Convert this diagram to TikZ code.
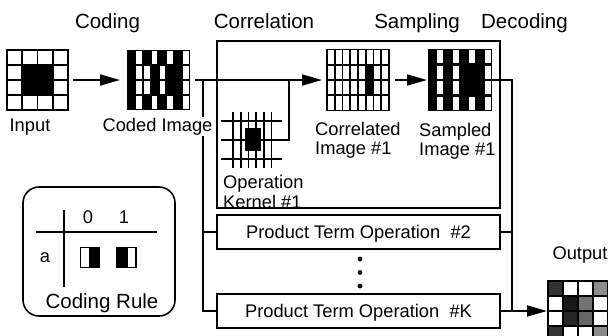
\documentclass[tikz,border=0pt]{standalone}
\usepackage{fontspec}
\setmainfont{Liberation Sans}
\usetikzlibrary{arrows.meta}
\begin{document}
\begin{tikzpicture}[x=1pt,y=-1pt,
  hdr/.style={font=\fontsize{20.5}{24}\selectfont, anchor=base, inner sep=0pt},
  lbl/.style={font=\fontsize{18.3}{22}\selectfont, anchor=base, inner sep=0pt},
  lblw/.style={lbl, anchor=base west},
  cell/.style={inner sep=0pt, outer sep=0pt, draw=none},
  gridln/.style={line width=1.8pt, line cap=rect},
  kline/.style={line width=1.6pt},
  conn/.style={line width=1.8pt},
  arr/.style={conn, -{Triangle[length=20pt,width=11pt]}},
  frame/.style={draw, line width=1.2pt, inner sep=0pt},
  ptbox/.style={frame, minimum width=283pt, minimum height=34pt,
    font=\fontsize{18.3}{22}\selectfont, text height=13.2pt, text depth=0pt},
]
\useasboundingbox (0,0) rectangle (608,335);

% ---- stage headings ----
\node[hdr] (hcod) at (107.5,28) {Coding};
\node[hdr] (hcor) at (264,28) {Correlation};
\node[hdr] (hsam) at (417,28) {Sampling};
\node[hdr] (hdec) at (524.5,28) {Decoding};

% ---- input image: 4x4 cells, centre 2x2 set ----
\node[cell, minimum width=61pt, minimum height=60pt] (input) at (37.5,80) {};
\fill (22.25,65) rectangle (52.75,95);
\foreach \i in {0,...,4} {
  \draw[gridln] (7+15.25*\i,50) -- (7+15.25*\i,110);
  \draw[gridln] (7,50+15*\i) -- (68,50+15*\i);
}
\node[lbl] (inputlbl) at (30,131) {Input};

% ---- coded image: each cell split into a black and a white half ----
\node[cell, minimum width=63pt, minimum height=60pt] (coded) at (158.5,80) {};
\fill (127,50) rectangle (190,110);
\foreach \h/\r in {1/0,3/0,5/0,7/0,1/1,2/1,4/1,7/1,1/2,2/2,4/2,7/2,1/3,3/3,5/3,7/3}
  \fill[white] (127+7.875*\h+1.1, 50+15*\r+1.2) rectangle ++(5.675, 12.6);

% ---- correlation / sampling block ----
\node[frame, minimum width=283pt, minimum height=167pt] (corrbox) at (358.5,124.5) {};

% operation kernel
\node[cell, minimum width=61pt, minimum height=56pt] (kernel) at (251.5,140) {};
\fill (244.5,127.5) rectangle (260.5,151);
\foreach \i in {0,...,5} \draw[kline] (233+7.7*\i,112) -- ++(0,56);
\foreach \j in {0,1,2} \draw[kline] (221,121+19*\j) -- ++(61,0);
\node[lblw] (kernlbl1) at (223,188) {Operation};
\node[lblw] (kernlbl2) at (223,208) {Kernel \#1};

% correlated image
\node[cell, minimum width=62pt, minimum height=61pt] (corr) at (358,80) {};
\fill (327+7.75*5, 49.5+15.25) rectangle ++(7.75, 30.5);
\foreach \i in {0,...,8} \draw[gridln] (327+7.75*\i,49.5) -- ++(0,61);
\foreach \j in {0,...,4} \draw[gridln] (327,49.5+15.25*\j) -- ++(62,0);
\node[lblw] (corrlbl1) at (315,135) {Correlated};
\node[lblw] (corrlbl2) at (315,154) {Image \#1};

% sampled image
\node[cell, minimum width=64pt, minimum height=62pt] (samp) at (460,80) {};
\fill (428,49) rectangle (492,111);
\foreach \h/\r in {1/0,3/0,5/0,7/0,1/1,3/1,7/1,1/2,3/2,7/2,1/3,3/3,5/3,7/3}
  \fill[white] (428+8*\h+1.1, 49+15.5*\r+1.2) rectangle ++(5.8, 13.1);
\node[lblw] (samplbl1) at (419,136.5) {Sampled};
\node[lblw] (samplbl2) at (419,155.5) {Image \#1};

% ---- further product terms ----
\node[ptbox] (pt2) at (358.5,232) {Product Term Operation~~\#2};
\node[ptbox] (ptK) at (358.5,311) {Product Term Operation~~\#K};
\fill (360,259) circle (2.4);
\fill (360,272.5) circle (2.4);
\fill (360,286) circle (2.4);

% ---- output image ----
\node[cell, minimum width=60pt, minimum height=60pt] (out) at (578,311) {};
\begin{scope}
  \clip (0,0) rectangle (608,335);
  \fill[black!80] (548,281) rectangle ++(15,15);
  \fill[black!45] (593,281) rectangle ++(15,15);
  \fill[black!90] (563,296) rectangle ++(15,15);
  \fill[black!55] (578,296) rectangle ++(15,15);
  \fill[black!85] (563,311) rectangle ++(15,15);
  \fill[black!60] (578,311) rectangle ++(15,15);
  \fill[black!80] (548,326) rectangle ++(15,15);
  \fill[black!45] (593,326) rectangle ++(15,15);
  \foreach \i in {0,...,4} {
    \draw[gridln] (548+15*\i,281) -- (548+15*\i,341);
    \draw[gridln] (548,281+15*\i) -- (608,281+15*\i);
  }
\end{scope}
\node[lbl] (outlbl) at (580,259) {Output};

% ---- connectors ----
\coordinate (split) at (203,80);
\coordinate (ktap) at (289,80);
\coordinate (merge) at (512,80);
\draw[arr] ([xshift=5pt]input.east) -- ([xshift=-7pt]coded.west);
\draw[arr] ([xshift=5pt]coded.east) -- ([xshift=-5pt]corr.west);
\draw[conn] (ktap) |- (kernel.east);
\draw[conn] (split) |- (pt2.west);
\draw[conn] (split) |- (ptK.west);
\draw[arr] ([xshift=6pt]corr.east) -- ([xshift=-1pt]samp.west);
\draw[conn] (samp.east) -- (merge) -- (merge |- ptK.east);
\draw[conn] (pt2.east) -- (pt2.east -| merge);
\draw[arr] (ptK.east) -- ([xshift=-1pt]out.west);

% label of the coded image sits over the branch line
\node[lbl, fill=white, inner sep=1pt] (codedlbl) at (157.5,131) {Coded Image};

% ---- coding rule legend ----
\node[draw, line width=1.6pt, rounded corners=16pt, minimum width=152pt,
  minimum height=129pt, inner sep=0pt] (rulebox) at (99,251.5) {};
\draw[line width=1.8pt] (64,210) -- (64,287);
\draw[line width=1.8pt] (36,232) -- (157,232);
\node[lbl] (bit0) at (88,223.5) {0};
\node[lbl] (bit1) at (124,223.5) {1};
\node[lbl] (vara) at (45,262) {a};
\fill (89,247.5) rectangle (100,267.5);
\draw[line width=1.5pt] (80.5,247.5) rectangle (99.5,267.5);
\fill (116,247.5) rectangle (127.5,267.5);
\draw[line width=1.5pt] (116.5,247.5) rectangle (136,267.5);
\node[hdr] (rulelbl) at (102,308) {Coding Rule};
\end{tikzpicture}
\end{document}
